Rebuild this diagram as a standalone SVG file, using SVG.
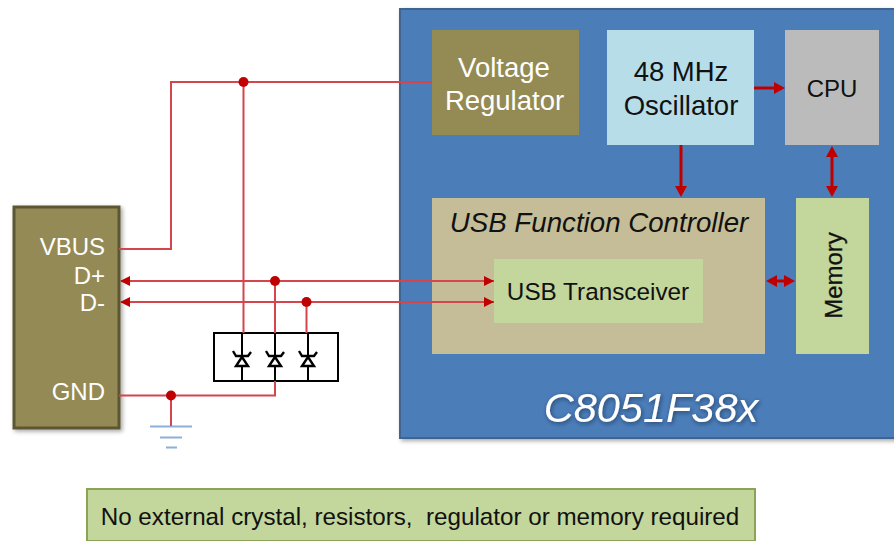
<svg xmlns="http://www.w3.org/2000/svg" width="894" height="541" viewBox="0 0 894 541">
<style>
text{font-family:"Liberation Sans",Arial,sans-serif}
.w{fill:#fff}.k{fill:#111}
.m{text-anchor:middle}.e{text-anchor:end}
.r{fill:none;stroke:#d5454d;stroke-width:2}
.t{fill:none;stroke:#c00000;stroke-width:3}
.s{fill:none;stroke:#000;stroke-width:2}
</style>
<defs>
<filter id="sh" x="-5%" y="-5%" width="115%" height="115%"><feDropShadow dx="2" dy="2" stdDev="2" flood-color="#000" flood-opacity=".35"/></filter>
<filter id="ts" x="-5%" y="-10%" width="115%" height="130%"><feDropShadow dx="1" dy="1.5" stdDev="1" flood-color="#123" flood-opacity=".6"/></filter>
<symbol id="tvs" overflow="visible"><path class="s" d="M0 0V24M0 32V48"/><path d="M0 24L-6 33H6Z" fill="#fff" stroke="#000" stroke-width="2.400"/><path class="s" d="M-9 18L-6 23H6L9 19" style="stroke-width:2.400"/></symbol>
</defs>
<g id="chip"><rect x="400" y="9" width="500" height="429" fill="#4c7db9" stroke="#3f648f" stroke-width="2" filter="url(#sh)"/>
<text x="651" y="422" class="w m" font-size="41.500" font-style="italic" filter="url(#ts)">C8051F38x</text></g>
<g id="usb-connector"><rect x="14" y="207" width="105" height="221" fill="#948a54" stroke="#5d5733" stroke-width="3" filter="url(#sh)"/>
<text x="105" y="255" class="w e" font-size="24">VBUS</text>
<text x="105" y="284" class="w e" font-size="24">D+</text>
<text x="105" y="311" class="w e" font-size="24">D-</text>
<text x="105" y="400" class="w e" font-size="24">GND</text></g>
<g id="voltage-regulator"><rect x="432" y="30" width="147" height="105" fill="#948a54"/>
<text x="504" y="77" class="w m" font-size="27.500">Voltage</text>
<text x="504.500" y="110" class="w m" font-size="27.500">Regulator</text></g>
<g id="oscillator"><rect x="607" y="30" width="147" height="115" fill="#b7dde8"/>
<text x="681" y="81" class="k m" font-size="27.500">48 MHz</text>
<text x="681" y="115" class="k m" font-size="27.500">Oscillator</text></g>
<g id="cpu"><rect x="785" y="30" width="94" height="115" fill="#bbb"/>
<text x="832" y="97" class="k m" font-size="24">CPU</text></g>
<g id="usb-function-controller"><rect x="432" y="198" width="333" height="156" fill="#c4bd97"/>
<text x="599" y="232" class="k m" font-size="27.700" font-style="italic">USB Function Controller</text></g>
<g id="usb-transceiver"><rect x="494" y="259" width="209" height="64" fill="#c3d69b"/>
<text x="598" y="300" class="k m" font-size="24.300">USB Transceiver</text></g>
<g id="memory"><rect x="796" y="198" width="73" height="156" fill="#c3d69b"/>
<text transform="translate(842 275.500) rotate(-90)" class="k m" font-size="24" stroke="#111" stroke-width=".3">Memory</text></g>
<g id="tvs-array"><rect x="214" y="333" width="124" height="48" fill="#fff" stroke="#000" stroke-width="2"/>
<use href="#tvs" x="242" y="333"/><use href="#tvs" x="275" y="333"/><use href="#tvs" x="308" y="333"/></g>
<g id="ground" fill="none" stroke="#8eb0d8" stroke-width="2"><path d="M150 426.500H192M160 437.500H182M166 447.500H177"/></g>
<g id="note"><rect x="87" y="489" width="668" height="52" fill="#c3d69b" stroke="#8aa356" stroke-width="2"/>
<text x="420" y="525" class="k m" font-size="24.200" xml:space="preserve">No external crystal, resistors,  regulator or memory required</text></g>
<g id="connectors">
<path class="r" d="M119 249H171V82H432M243.500 82V333M121 281H494M121 302H494M275 281V333M306.500 302V333M119 395.500H275V381M171 395.500V426"/>
<g fill="#c00000">
<circle cx="243.500" cy="82" r="5"/><circle cx="275" cy="281" r="5"/><circle cx="306.500" cy="302" r="5"/><circle cx="171" cy="395.500" r="5"/>
<path d="M120 281L130 276V286ZM120 302L130 297V307ZM494 281L484 276V286ZM494 302L484 297V307Z"/>
</g>
<path class="t" d="M754 88H778M681 145V188M832 155V188M775 281H786"/>
<g fill="#c00000">
<path d="M785 88L774 82V94ZM681 197L675 186H687ZM832 146L826 157H838ZM832 197L826 186H838ZM766 281L777 275V287ZM795 281L784 275V287Z"/>
</g>
</g>
</svg>
